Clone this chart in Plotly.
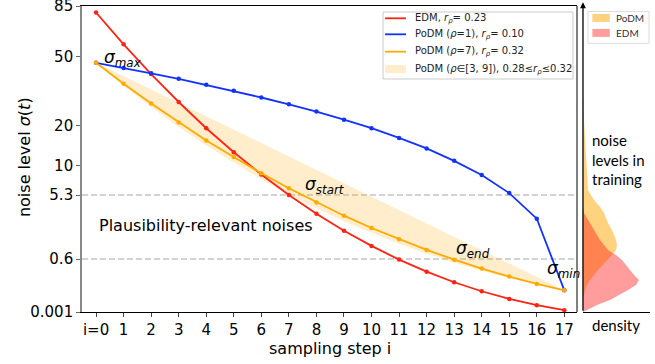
import numpy as np
import plotly.graph_objects as go

# ---------------- data ----------------
steps = list(range(18))
step_labels = ["i=0"] + [str(i) for i in range(1, 18)]

edm_sigma = [80.0, 57.6, 40.8, 28.4, 19.3, 12.9, 8.40, 5.31, 3.25, 1.92, 1.09,
             0.585, 0.296, 0.139, 0.060, 0.0229, 0.0075, 0.002]
podm1_sigma = [46.7, 44.0, 41.2, 38.5, 35.7, 33.0, 30.2, 27.5, 24.8, 22.0, 19.3,
               16.5, 13.8, 11.0, 8.30, 5.55, 2.81, 0.066]
podm7_sigma = [46.7, 36.2, 27.8, 21.1, 15.8, 11.8, 8.61, 6.21, 4.41, 3.07, 2.10,
               1.41, 0.919, 0.584, 0.359, 0.213, 0.121, 0.066]
podm3_sigma = [46.7, 39.8, 33.5, 28.0, 23.1, 18.8, 15.1, 11.9, 9.22, 6.95, 5.09,
               3.60, 2.43, 1.55, 0.907, 0.475, 0.208, 0.066]
podm9_sigma = [46.7, 35.3, 26.5, 19.7, 14.5, 10.6, 7.60, 5.40, 3.79, 2.61, 1.78,
               1.19, 0.779, 0.500, 0.314, 0.192, 0.115, 0.066]

series_names = ["EDM, <i>r<sub>ρ</sub></i>= 0.23",
                "PoDM (<i>ρ</i>=1), <i>r<sub>ρ</sub></i>= 0.10",
                "PoDM (<i>ρ</i>=7), <i>r<sub>ρ</sub></i>= 0.32",
                "PoDM (<i>ρ</i>∈[3, 9]), 0.28≤<i>r<sub>ρ</sub></i>≤0.32"]

ytick_vals = [85, 50, 20, 10, 5.3, 0.6, 0.001]
ytick_text = ["85", "50", "20", "10", "5.3", "0.6", "0.001"]

train_sigma = [31.2, 29.2, 21.9, 15.9, 11.2, 8.29, 5.96, 4.68, 3.91, 3.31, 2.86,
               2.46, 1.96, 1.65, 1.37, 1.13, 0.915, 0.731, 0.572, 0.439, 0.329,
               0.238, 0.166, 0.110, 0.0684, 0.0390, 0.0195, 0.00779, 0.00287, 0.001]
podm_density = [0, 0.5, 1, 2, 3, 4, 5, 11, 17, 21, 23, 25, 29, 31, 33, 34, 33, 29,
                24, 20, 15, 11, 7, 4, 2, 1, 0, 0, 0, 0]
edm_density = [0, 0, 0, 0, 0, 0, 0, 0, 0, 1, 4, 7, 11, 14, 17, 21, 25, 33, 39, 43,
               47, 51, 56, 53, 45, 36, 27, 14, 5, 0]
density_names = ["PoDM", "EDM"]

# axis scale: sigma^(1/3)
def tr(v):
    return np.cbrt(np.asarray(v, dtype=float))

FONT = "DejaVu Sans"
RED = "rgb(255,35,20)"
BLUE = "rgb(20,50,255)"
ORANGE = "rgb(255,170,0)"
BAND = "rgba(255,165,0,0.2)"
PODM_FILL = "rgba(255,165,0,0.5)"
EDM_FILL = "rgba(255,20,20,0.42)"

fig = go.Figure()

# band rho in [3, 9]
fig.add_trace(go.Scatter(x=steps, y=tr(podm9_sigma), mode="lines", line=dict(width=0),
                         showlegend=False, hoverinfo="skip"))
fig.add_trace(go.Scatter(x=steps, y=tr(podm3_sigma), mode="lines", line=dict(width=0),
                         fill="tonexty", fillcolor=BAND, name=series_names[3],
                         showlegend=False))

line_series = [(edm_sigma, RED), (podm1_sigma, BLUE), (podm7_sigma, ORANGE)]
for k, (vals, col) in enumerate(line_series):
    fig.add_trace(go.Scatter(x=steps, y=tr(vals), mode="lines+markers",
                             name=series_names[k], line=dict(color=col, width=1.8),
                             marker=dict(color=col, size=4.5), showlegend=False))

# density panel
fig.add_trace(go.Scatter(x=podm_density, y=tr(train_sigma), mode="lines",
                         line=dict(width=0), fill="tozerox", fillcolor=PODM_FILL,
                         name=density_names[0], xaxis="x2", yaxis="y2", showlegend=False))
fig.add_trace(go.Scatter(x=edm_density, y=tr(train_sigma), mode="lines",
                         line=dict(width=0), fill="tozerox", fillcolor=EDM_FILL,
                         name=density_names[1], xaxis="x2", yaxis="y2", showlegend=False))

yr = [float(tr(0.001)), float(tr(85)) + 0.003]

shapes = []
for lv in [5.3, 0.6]:
    shapes.append(dict(type="line", xref="x domain", x0=0, x1=1, yref="y",
                       y0=float(tr(lv)), y1=float(tr(lv)), layer="below",
                       line=dict(color="#c4c4c4", width=1.5, dash="6px,3px")))
shapes.append(dict(type="line", xref="x domain", x0=1, x1=1, yref="y domain",
                   y0=0, y1=1, line=dict(color="black", width=1)))

annotations = []

# main legend (drawn as box + samples + texts)
shapes.append(dict(type="rect", xref="paper", yref="paper", x0=0.530, x1=0.8644,
                   y0=0.7614, y1=0.9804, line=dict(color="#cccccc", width=1),
                   fillcolor="white", layer="above"))
row_y = [0.9598, 0.9075, 0.8507, 0.7941]
for k, (vals, col) in enumerate(line_series):
    shapes.append(dict(type="line", xref="paper", yref="paper", x0=0.5335, x1=0.5704,
                       y0=row_y[k], y1=row_y[k], line=dict(color=col, width=1.8),
                       layer="above"))
shapes.append(dict(type="rect", xref="paper", yref="paper", x0=0.5335, x1=0.5704,
                   y0=row_y[3] - 0.013, y1=row_y[3] + 0.013, line=dict(width=0),
                   fillcolor=BAND, layer="above"))
for k, nm in enumerate(series_names):
    annotations.append(dict(x=0.5827, y=row_y[k], xref="paper", yref="paper", text=nm,
                            showarrow=False, xanchor="left", yanchor="middle",
                            font=dict(size=10, family=FONT, color="#222")))

# small legend of the density panel (box + patches)
shapes.append(dict(type="rect", xref="x2 domain", yref="paper", x0=0.075, x1=0.985,
                   y0=0.878, y1=0.982, line=dict(color="#dddddd", width=1),
                   fillcolor="white", layer="above"))
for k, col in enumerate([PODM_FILL, EDM_FILL]):
    yc = 0.961 - k * 0.049
    shapes.append(dict(type="rect", xref="x2 domain", yref="paper", x0=0.14, x1=0.40,
                       y0=yc - 0.013, y1=yc + 0.013, line=dict(width=0),
                       fillcolor=col, layer="above"))
for k, nm in enumerate(density_names):
    annotations.append(dict(x=0.46, y=0.961 - k * 0.049, xref="x2 domain", yref="paper",
                            text=nm, showarrow=False, xanchor="left", yanchor="middle",
                            font=dict(size=10, family="Lato", color="#333")))

def sig(sub):
    return "<i>σ<sub>%s</sub></i>" % sub

annotations += [
    dict(x=0.22, y=3.667, xref="x", yref="y", text=sig("max"), showarrow=False,
         xanchor="left", yanchor="middle", font=dict(size=17, family=FONT, color="black")),
    dict(x=7.51, y=1.884, xref="x", yref="y", text=sig("start"), showarrow=False,
         xanchor="left", yanchor="middle", font=dict(size=17, family=FONT, color="black")),
    dict(x=13.0, y=0.985, xref="x", yref="y", text=sig("end"), showarrow=False,
         xanchor="left", yanchor="middle", font=dict(size=17, family=FONT, color="black")),
    dict(x=16.3, y=0.704, xref="x", yref="y", text=sig("min"), showarrow=False,
         xanchor="left", yanchor="middle", font=dict(size=17, family=FONT, color="black")),
    dict(x=0.04, y=1.322, xref="x", yref="y", text="Plausibility-relevant noises",
         showarrow=False, xanchor="left", yanchor="middle",
         font=dict(size=16, family=FONT, color="black")),
    dict(x=-0.1, y=0.507, xref="paper", yref="paper", text="noise level <i>σ</i>(<i>t</i>)",
         textangle=-90, showarrow=False, xanchor="center", yanchor="middle",
         font=dict(size=16, family=FONT, color="black")),
    dict(x=0.5, y=-0.118, xref="x domain", yref="paper", text="sampling step i",
         showarrow=False, xanchor="center", yanchor="middle",
         font=dict(size=16, family=FONT, color="black")),
    dict(x=0.11, y=0.50, xref="x2 domain", yref="paper",
         text="noise<br>levels in<br>training", showarrow=False, align="left",
         xanchor="left", yanchor="middle", font=dict(size=15, family="Lato", color="black")),
    dict(x=0.5, y=-0.042, xref="x2 domain", yref="paper", text="density",
         showarrow=False, xanchor="center", yanchor="middle",
         font=dict(size=15, family="Lato", color="black")),
    dict(x=0, y=1.012, xref="x2 domain", yref="paper", ax=0, ay=310, axref="pixel",
         ayref="pixel", text="", showarrow=True, arrowhead=2, arrowsize=0.9,
         arrowwidth=1.3, arrowcolor="black"),
]

fig.update_layout(
    width=655, height=364,
    margin=dict(l=82, r=5, t=6, b=52, autoexpand=False),
    plot_bgcolor="white", paper_bgcolor="white",
    font=dict(family=FONT, color="black"),
    xaxis=dict(domain=[0, 0.8715], range=[-0.51, 17.46], tickvals=steps,
               ticktext=step_labels, ticks="outside", ticklen=4, tickcolor="#444",
               showline=True, linecolor="black", linewidth=1, mirror=True,
               showgrid=False, zeroline=False, automargin=False,
               tickfont=dict(size=15, family=FONT)),
    yaxis=dict(range=yr, tickvals=[float(v) for v in tr(ytick_vals)], ticktext=ytick_text,
               ticks="outside", ticklen=4, tickcolor="#666", showline=True,
               linecolor="#888888", linewidth=1.6, showgrid=False, zeroline=False,
               automargin=False, ticklabeloverflow="allow",
               tickfont=dict(size=15, family=FONT)),
    xaxis2=dict(domain=[0.882, 1], range=[0, 67], anchor="y2", showline=True,
                linecolor="black", linewidth=1.2, showticklabels=False, ticks="",
                showgrid=False, zeroline=False, automargin=False),
    yaxis2=dict(range=yr, anchor="x2", showline=False, showticklabels=False,
                ticks="", showgrid=False, zeroline=False, automargin=False),
    shapes=shapes,
    annotations=annotations,
    showlegend=False,
)

fig.write_html("out.html", config={"displayModeBar": False},
               post_script="document.body.style.margin='0px';document.body.style.overflow='hidden';")
